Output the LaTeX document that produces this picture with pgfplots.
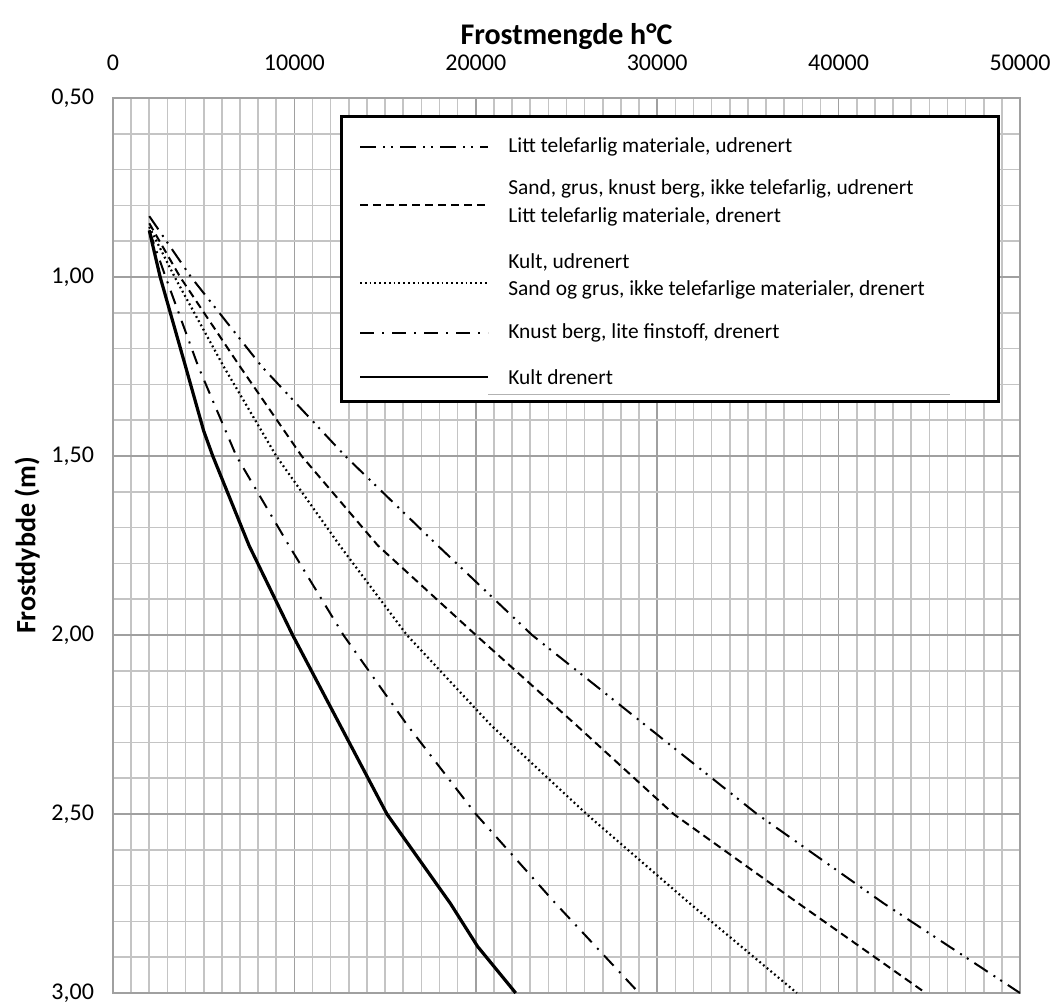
\documentclass[border=0pt]{standalone}
\usepackage{pgfplots}
\pgfplotsset{compat=1.18}
\usepackage{fontspec}
\setmainfont{Carlito}
\definecolor{gridminor}{HTML}{C4C4C4}
\definecolor{gridmajor}{HTML}{A0A0A0}
\tikzset{
  ddot/.style={line width=1pt, dash pattern=on 8pt off 3.5pt on 1pt off 3pt on 1pt off 3.5pt},
  dsh/.style={line width=1pt, dash pattern=on 4pt off 2.5pt},
  dtt/.style={line width=1.1pt, dash pattern=on 0.9pt off 1.5pt},
  dshdot/.style={line width=1pt, dash pattern=on 7pt off 4pt on 1pt off 4pt},
  sld/.style={line width=1.6pt},
}
\begin{document}
\begin{tikzpicture}
\useasboundingbox (0,0) rectangle (526.5pt,501.5pt);
\begin{axis}[
  at={(56.5pt,5pt)}, anchor=south west,
  width=453.5pt, height=447.5pt, scale only axis,
  xmin=0, xmax=50000, ymin=0.5, ymax=3,
  y dir=reverse,
  xticklabel pos=upper,
  scaled x ticks=false,
  xtick={0,10000,...,50000},
  minor xtick={0,1000,...,50000},
  ytick={0.5,1,...,3},
  minor ytick={0.5,0.6,...,3.01},
  grid=both,
  major grid style={gridmajor, line width=0.8pt},
  minor grid style={gridminor, line width=0.8pt},
  axis line style={gridmajor, line width=0.8pt},
  major tick length=0pt, minor tick length=0pt,
  xticklabel style={font=\fontsize{12}{14}\selectfont, yshift=10pt},
  yticklabel style={font=\fontsize{12}{14}\selectfont, xshift=-6pt},
  x tick label style={/pgf/number format/1000 sep={}},
  y tick label style={/pgf/number format/.cd, fixed, fixed zerofill, precision=2, use comma},
  /pgf/number format/assume math mode=true,
  xlabel={\textbf{Frostmengde h°C}},
  xlabel style={font=\fontsize{15}{17}\selectfont, yshift=-4pt},
  ylabel={\textbf{Frostdybde (m)}},
  ylabel style={font=\fontsize{14}{16}\selectfont, yshift=-1pt},
  clip=true,
]
\addplot[ddot] coordinates {(2000,0.83) (4300,1.0) (8200,1.25) (12800,1.5) (17900,1.75) (23100,2.0) (29300,2.25) (35500,2.5) (42500,2.75) (50000,3.0)};
\addplot[dsh] coordinates {(2000,0.85) (3700,1.0) (7000,1.25) (10400,1.5) (14600,1.75) (20000,2.0) (25500,2.25) (30900,2.5) (37800,2.75) (44800,3.0)};
\addplot[dtt] coordinates {(2000,0.86) (3400,1.0) (6100,1.25) (9000,1.5) (12500,1.75) (16200,2.0) (20800,2.25) (26100,2.5) (31800,2.75) (37700,3.0)};
\addplot[dshdot] coordinates {(2000,0.87) (2900,1.0) (4700,1.25) (6800,1.5) (9700,1.75) (12700,2.0) (16200,2.25) (20000,2.5) (24400,2.75) (29000,3.0)};
\addplot[sld] coordinates {(2000,0.87) (2600,1.0) (4000,1.25) (5000,1.43) (5500,1.5) (7500,1.75) (9900,2.0) (12500,2.25) (15100,2.5) (18600,2.75) (20100,2.87) (22200,3.0)};
\end{axis}
% legend
\fill[white] (170.5pt,301pt) rectangle (499pt,443pt);
\draw[line width=1.5pt] (170.5pt,301pt) rectangle (499pt,443pt);
\draw[ddot] (180pt,428pt) -- (244pt,428pt);
\draw[dsh] (180pt,399pt) -- (244pt,399pt);
\draw[dtt] (180pt,360pt) -- (244pt,360pt);
\draw[dshdot] (180pt,335pt) -- (244pt,335pt);
\draw[line width=1pt] (180pt,313pt) -- (244pt,313pt);
\draw[gray!60, line width=0.5pt] (244pt,304.5pt) -- (475pt,304.5pt);
\begin{scope}[every node/.style={anchor=west, inner sep=0pt, font=\fontsize{10.7}{12}\selectfont}]
\node at (254pt,428pt) {Litt telefarlig materiale, udrenert};
\node at (254pt,407pt) {Sand, grus, knust berg, ikke telefarlig, udrenert};
\node at (254pt,393pt) {Litt telefarlig materiale, drenert};
\node at (254pt,370.5pt) {Kult, udrenert};
\node at (254pt,356.5pt) {Sand og grus, ikke telefarlige materialer, drenert};
\node at (254pt,335pt) {Knust berg, lite finstoff, drenert};
\node at (254pt,313pt) {Kult drenert};
\end{scope}
\end{tikzpicture}
\end{document}
